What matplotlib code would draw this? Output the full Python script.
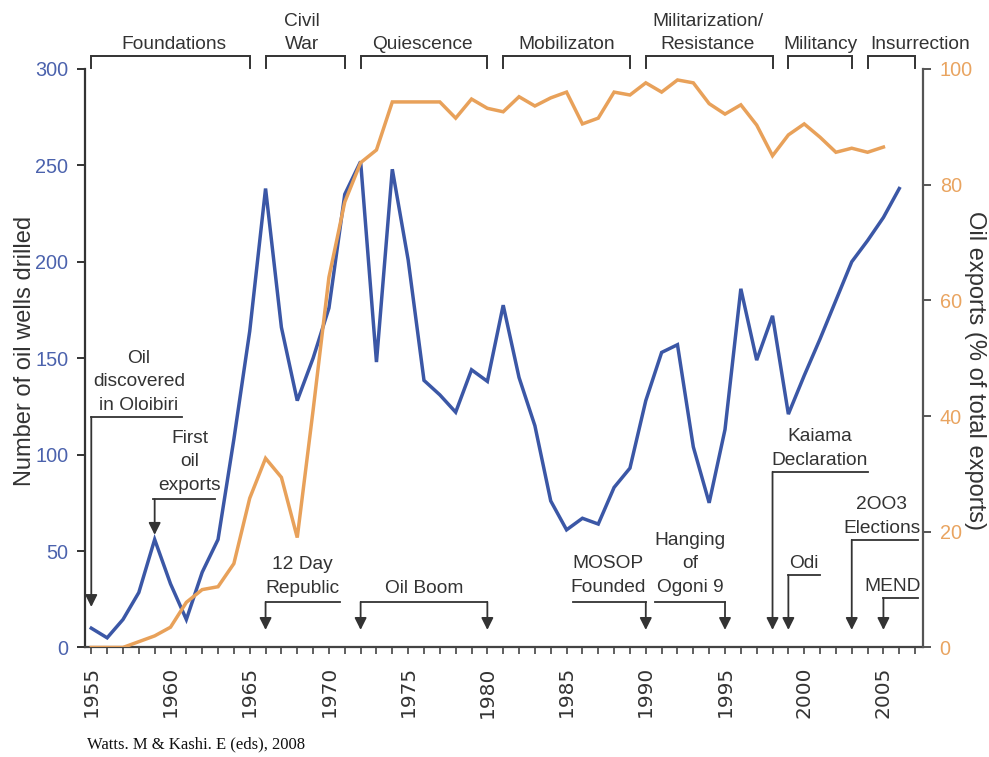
import matplotlib
matplotlib.use("Agg")
import matplotlib.pyplot as plt

# data
well_years = list(range(1955, 2007))
wells = [10, 5, 14.5, 28.5, 56, 33, 14.5, 39, 56, 108,
         164, 238, 166, 128, 150, 176, 235, 252, 148, 248,
         201, 138.5, 131, 122, 144, 138, 177.5, 140, 115, 76,
         61, 67, 64, 83, 93, 128, 153, 157, 104, 75,
         113, 186, 149, 172, 121, 141, 160, 180, 200, 211,
         223, 238]

export_years = list(range(1955, 2006))
exports = [0, 0, 0, 1, 2, 3.5, 7.8, 10, 10.5, 14.5,
           25.8, 32.7, 29.4, 19, 41, 64, 77, 83.8, 86, 94.3,
           94.3, 94.3, 94.3, 91.5, 94.8, 93.2, 92.6, 95.2, 93.6, 95,
           96, 90.5, 91.5, 96, 95.5, 97.6, 96, 98.1, 97.6, 94,
           92.2, 93.8, 90.3, 85, 88.6, 90.5, 88.2, 85.6, 86.3, 85.6,
           86.5]

# periods along the top: (label, start year, end year, label x)
periods = [
    ("Foundations", 1955, 1965, 1960.2),
    ("Civil\nWar", 1966, 1971, 1968.3),
    ("Quiescence", 1972, 1980, 1975.9),
    ("Mobilizaton", 1981, 1989, 1985.0),
    ("Militarization/\nResistance", 1990, 1998, 1993.9),
    ("Militancy", 1999, 2003, 2001.0),
    ("Insurrection", 2004, 2007, 2007.3),
]

# events: (label, arrow years, line from, line to, text x, line y, text y, arrow tip y)
events = [
    ("Oil\ndiscovered\nin Oloibiri", [1955], 1955, 1960.7, 1958.0, 119.5, 121.1, 21.0),
    ("First\noil\nexports", [1959], 1958.9, 1962.8, 1961.2, 76.9, 79.7, 58.4),
    ("12 Day\nRepublic", [1966], 1966, 1970.7, 1968.3, 23.6, 26.2, 9.1),
    ("Oil Boom", [1972, 1980], 1972, 1980, 1976.0, 23.6, 26.2, 9.1),
    ("MOSOP\nFounded", [1990], 1985.4, 1990, 1987.6, 23.6, 26.7, 9.1),
    ("Hanging\nof\nOgoni 9", [1995], 1990.6, 1995, 1992.8, 23.6, 26.7, 9.1),
    ("Kaiama\nDeclaration", [1998], 1998, 2004, 2001.0, 91.1, 92.6, 9.1),
    ("Odi", [1999], 1999, 2001, 2000.0, 37.6, 39.2, 9.1),
    ("2OO3\nElections", [2003], 2003, 2007.2, 2004.9, 55.8, 57.4, 9.1),
    ("MEND", [2005], 2005, 2007.2, 2005.6, 25.7, 27.2, 9.1),
]

blue = "#3b57a6"
orange = "#e8a15a"
blue_txt = "#4b62ad"
orange_txt = "#e9a460"
ink = "#333333"

plt.rcParams["font.family"] = ["Liberation Sans", "DejaVu Sans"]
fs = 13.8

fig = plt.figure(figsize=(9.89, 7.57), dpi=100)
ax = fig.add_axes([0.0859, 0.1447, 0.8474, 0.7642])
ax2 = ax.twinx()

ax.plot(well_years, wells, color=blue, lw=2.5, solid_joinstyle="miter")
ax2.plot(export_years, exports, color=orange, lw=2.5, solid_joinstyle="miter")

ax.set_xlim(1954.6, 2007.5)
ax.set_ylim(0, 300)
ax2.set_ylim(0, 100)

ax.set_yticks([0, 50, 100, 150, 200, 250, 300])
ax2.set_yticks([0, 20, 40, 60, 80, 100])
ax.set_xticks(range(1955, 2008))
ax.set_xticklabels([str(y) if y % 5 == 0 else "" for y in range(1955, 2008)],
                   rotation=90, fontsize=14.5, family="DejaVu Sans", color=ink)

for a in (ax, ax2):
    a.spines["top"].set_visible(False)
ax.spines["right"].set_visible(False)
ax2.spines["left"].set_visible(False)
ax2.spines["bottom"].set_visible(False)
ax.spines["left"].set_color(ink)
ax.spines["bottom"].set_color("#444444")
ax2.spines["right"].set_color("#555555")
for s in ("left", "bottom"):
    ax.spines[s].set_linewidth(1.6)
ax2.spines["right"].set_linewidth(1.6)

ax.tick_params(axis="x", direction="out", length=5, width=1.2, color="#444444", pad=8.5)
ax.tick_params(axis="y", direction="out", length=6, width=1.4, color=ink, pad=6,
               labelsize=14.3, labelcolor=blue_txt)
ax2.tick_params(axis="y", direction="out", length=6, width=1.4, color="#555555", pad=6,
                labelsize=14.3, labelcolor=orange_txt)

fig.text(0.025, 0.537, "Number of oil wells drilled", rotation=90,
         ha="center", va="center", fontsize=17, color=ink)
fig.text(0.986, 0.51, "Oil exports (% of total exports)", rotation=270,
         ha="center", va="center", fontsize=17, color=ink)

# period brackets above the plot
for label, y0, y1, lx in periods:
    ax.plot([y0, y0, y1, y1], [300.5, 306.5, 306.5, 300.5], color=ink, lw=1.4,
            clip_on=False, solid_joinstyle="miter")
    ax.text(lx, 308.3, label, ha="center", va="bottom", fontsize=fs,
            color=ink, linespacing=1.42, clip_on=False)

# event annotations with elbow arrows
for label, arrows, x0, x1, tx, ly, ty, tip in events:
    ax.plot([x0, x1], [ly, ly], color=ink, lw=1.3)
    for yr in arrows:
        ax.annotate("", xy=(yr, tip), xytext=(yr, ly),
                    arrowprops=dict(arrowstyle="-|>,head_length=0.6,head_width=0.3",
                                    mutation_scale=12, color=ink, lw=1.3,
                                    shrinkA=0, shrinkB=0))
    ax.text(tx, ty, label, ha="center", va="bottom", fontsize=fs, color=ink,
            linespacing=1.5)

fig.text(0.088, 0.006, "Watts. M & Kashi. E (eds), 2008", family="Liberation Serif",
         fontsize=12, color="#111111", ha="left", va="bottom")

fig.savefig("out.png", dpi=100)
